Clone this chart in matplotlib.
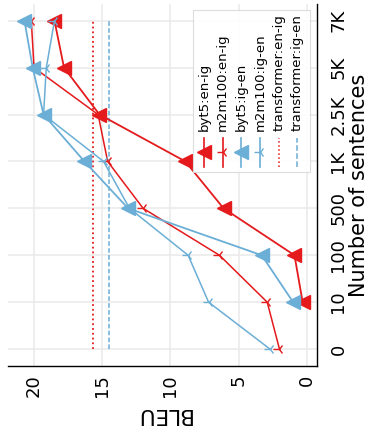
import matplotlib
matplotlib.use("Agg")
import matplotlib.pyplot as plt
import numpy as np

# data (chart is drawn rotated: BLEU runs right-to-left, sizes bottom-to-top)
sizes = ["0", "10", "100", "500", "1K", "2.5K", "5K", "7K"]
byt5_en_ig = [np.nan, 0.3, 0.9, 6.1, 8.9, 15.2, 17.8, 18.5]
m2m100_en_ig = [2.0, 2.9, 6.4, 12.0, 14.6, 15.3, 20.0, 20.2]
byt5_ig_en = [np.nan, 1.0, 3.3, 13.1, 16.3, 19.3, 20.1, 20.7]
m2m100_ig_en = [2.7, 7.2, 8.7, 13.0, 14.9, 19.3, 19.1, 18.5]
transformer_en_ig = 15.7
transformer_ig_en = 14.5
bleu_ticks = [0, 5, 10, 15, 20]

RED = "#e41a1c"
BLUE = "#6baed6"

fig = plt.figure(figsize=(3.69, 4.30), dpi=100)
ax = fig.add_axes([0.022, 0.149, 0.837, 0.842])

idx = np.arange(len(sizes))

series = [
    (byt5_en_ig, RED, "<", 10, 1.3, "byt5:en-ig"),
    (m2m100_en_ig, RED, "3", 8, 1.1, "m2m100:en-ig"),
    (byt5_ig_en, BLUE, "<", 10, 1.3, "byt5:ig-en"),
    (m2m100_ig_en, BLUE, "3", 8, 1.1, "m2m100:ig-en"),
]
for vals, col, mk, ms, lw, lab in series:
    ax.plot(vals, idx, color=col, marker=mk, markersize=ms, lw=lw, zorder=3)

ax.plot([transformer_en_ig] * 2, [idx[0], idx[-1]], color=RED, ls=":", lw=1.3, zorder=2)
ax.plot([transformer_ig_en] * 2, [idx[0], idx[-1]], color=BLUE, ls="--", lw=1.1,
        dashes=(3, 1.5), zorder=2)

ax.set_xlim(21.9, -0.75)
ax.set_ylim(-0.36, 7.36)
ax.set_xticks(bleu_ticks)
ax.set_xticklabels([str(t) for t in bleu_ticks], rotation=90, fontsize=13)
ax.set_yticks(idx)
ax.set_yticklabels(sizes, rotation=90, fontsize=13, va="center")
ax.yaxis.tick_right()
ax.yaxis.set_label_position("right")
ax.tick_params(axis="x", length=0, pad=6)
ax.tick_params(axis="y", length=0, pad=9)
ax.set_xlabel("BLEU", rotation=180, fontsize=15.5, labelpad=5)
ax.set_ylabel("Number of sentences", rotation=90, fontsize=15, labelpad=1)

ax.grid(True, color="#ebebeb", lw=1.2)
ax.set_axisbelow(True)
for s in ["top", "left"]:
    ax.spines[s].set_visible(False)
for s in ["right", "bottom"]:
    ax.spines[s].set_color("black")
    ax.spines[s].set_linewidth(1.0)

# hand-made rotated legend
legend_entries = [
    (RED, "-", "<", 10, "byt5:en-ig"),
    (RED, "-", "3", 8, "m2m100:en-ig"),
    (BLUE, "-", "<", 10, "byt5:ig-en"),
    (BLUE, "-", "3", 8, "m2m100:ig-en"),
    (RED, ":", None, 0, "transformer:en-ig"),
    (BLUE, "--", None, 0, "transformer:ig-en"),
]
box = plt.Rectangle((0.599, 0.536), 0.378, 0.447, transform=ax.transAxes,
                    facecolor="white", edgecolor="#d9d9d9", lw=0.8, alpha=0.9, zorder=5)
ax.add_patch(box)
for i, (col, ls, mk, ms, lab) in enumerate(legend_entries):
    xa = (204 + 18.7 * i - 8) / 309
    y0 = 1 - (167 - 4) / 362
    y1 = 1 - (138 - 4) / 362
    ax.plot([xa, xa], [y0, y1], transform=ax.transAxes, color=col, ls=ls,
            lw=1.2 if mk else 1.1, clip_on=False, zorder=6)
    if mk:
        ax.plot([xa], [(y0 + y1) / 2], transform=ax.transAxes, color=col, marker=mk,
                markersize=ms, clip_on=False, zorder=6)
    ax.text(xa, 1 - (131 - 4) / 362, lab, transform=ax.transAxes, rotation=90,
            ha="center", va="bottom", fontsize=9.5, zorder=7)

fig.savefig("out.png", dpi=100)
